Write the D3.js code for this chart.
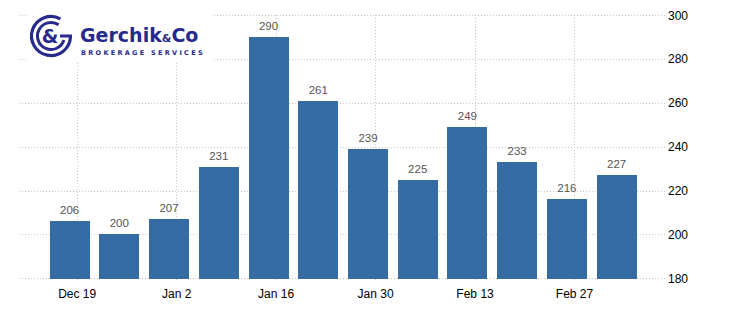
<html>
<head>
<meta charset="utf-8">
<style>
	body { margin: 0; background: #fff; }
	.grid line { stroke: #c8c8c8; stroke-width: 1; stroke-dasharray: 1,2; }
	.val { fill: #555; font-family: "Liberation Sans", Arial, sans-serif; font-size: 11.5px; }
	.axis text { fill: #000; font-family: "Liberation Sans", Arial, sans-serif; }
	.logo { fill: #27298c; font-family: "DejaVu Sans", sans-serif; font-weight: bold; }
</style>
<script src="https://d3js.org/d3.v7.min.js"></script>
</head>
<body>
<svg width="739" height="312"></svg>
<script>
	const weeks = ["2019-12-19","2019-12-26","2020-01-02","2020-01-09","2020-01-16","2020-01-23",
	               "2020-01-30","2020-02-06","2020-02-13","2020-02-20","2020-02-27","2020-03-05"];
	const claims = [206, 200, 207, 231, 290, 261, 239, 225, 249, 233, 216, 227];
	const xTicks = ["2019-12-19","2020-01-02","2020-01-16","2020-01-30","2020-02-13","2020-02-27"];
	const yTicks = [180, 200, 220, 240, 260, 280, 300];

	const tp = d3.timeParse("%Y-%m-%d");
	const svg = d3.select("svg");

	const xs = d3.scaleTime()
		.domain([tp("2019-12-19"), tp("2020-02-27")])
		.range([76.7, 574]);
	const ys = d3.scaleLinear().domain([180, 300]).range([278.3, 15.3]);

	const day = xs(tp("2019-12-20")) - xs(tp("2019-12-19"));
	const bw = 40;

	// grid
	const grid = svg.append("g").attr("class", "grid");
	grid.selectAll(".h").data(yTicks).enter().append("line")
		.attr("x1", 19).attr("x2", 665)
		.attr("y1", d => Math.round(ys(d)) + 0.5).attr("y2", d => Math.round(ys(d)) + 0.5);
	grid.selectAll(".v").data(xTicks).enter().append("line")
		.attr("x1", d => Math.round(xs(tp(d))) + 0.5).attr("x2", d => Math.round(xs(tp(d))) + 0.5)
		.attr("y1", 15).attr("y2", 282);

	// bars
	svg.append("g").selectAll("rect").data(weeks).enter().append("rect")
		.attr("x", (d, i) => Math.round(xs(tp(d)) - day - bw / 2))
		.attr("width", bw)
		.attr("y", (d, i) => Math.round(ys(claims[i])))
		.attr("height", (d, i) => Math.round(ys(180)) - Math.round(ys(claims[i])) + 1)
		.attr("fill", "#376ba4");

	svg.append("g").selectAll("text").data(weeks).enter().append("text")
		.attr("class", "val")
		.attr("text-anchor", "middle")
		.attr("x", d => xs(tp(d)) - day)
		.attr("y", (d, i) => ys(claims[i]) - 7)
		.text((d, i) => claims[i]);

	// axes
	svg.append("g").attr("class", "axis")
		.attr("transform", "translate(0,278)")
		.call(d3.axisBottom(xs).tickValues(xTicks.map(tp)).tickFormat(d3.timeFormat("%b %-d")).tickSize(0).tickPadding(11))
		.call(g => g.select(".domain").remove())
		.selectAll("text").style("font-size", "12px");

	svg.append("g").attr("class", "axis")
		.attr("transform", "translate(667,0)")
		.call(d3.axisRight(ys).tickValues(yTicks).tickSize(0).tickPadding(1))
		.call(g => g.select(".domain").remove())
		.selectAll("text").style("font-size", "12px");

	// logo
	const logo = svg.append("g");
	logo.append("rect").attr("x", 26).attr("y", 12).attr("width", 186).attr("height", 50).attr("fill", "#fff");
	const c = logo.append("g").attr("transform", "translate(51,36)");
	c.append("path").attr("fill", "none").attr("stroke", "#27298c").attr("stroke-width", 3.2)
		.attr("d", d3.arc()({innerRadius: 19.5, outerRadius: 19.5, startAngle: Math.PI / 2 + 0.05, endAngle: Math.PI * 2 + 0.5}));
	c.append("path").attr("fill", "none").attr("stroke", "#27298c").attr("stroke-width", 3)
		.attr("d", d3.arc()({innerRadius: 13.5, outerRadius: 13.5, startAngle: Math.PI / 2 + 0.3, endAngle: Math.PI * 2 + 0.6}));
	c.append("line").attr("x1", 9).attr("x2", 21).attr("y1", 0).attr("y2", 0)
		.attr("stroke", "#27298c").attr("stroke-width", 3);
	c.append("text").attr("class", "logo").attr("text-anchor", "middle").attr("x", -1).attr("y", 7)
		.style("font-size", "19px").text("&");
	const t = logo.append("text").attr("class", "logo").attr("x", 80).attr("y", 42);
	t.append("tspan").style("font-size", "19px").text("Gerchik");
	t.append("tspan").style("font-size", "11px").text("&");
	t.append("tspan").style("font-size", "19px").text("Co");
	logo.append("text").attr("class", "logo").attr("x", 81).attr("y", 54.5)
		.style("font-size", "6.5px").style("letter-spacing", "2.3px").text("BROKERAGE SERVICES");
</script>
</body>
</html>
